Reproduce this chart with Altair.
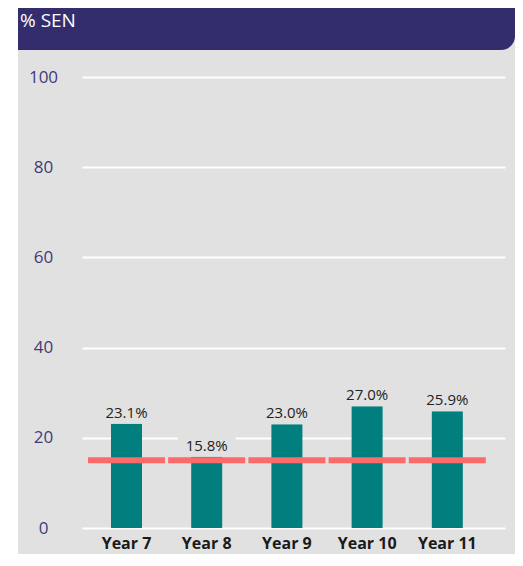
import altair as alt
import pandas as pd

years = ["Year 7", "Year 8", "Year 9", "Year 10", "Year 11"]
sen_pct = [23.1, 15.8, 23.0, 27.0, 25.9]
national = [15.0, 15.0, 15.0, 15.0, 15.0]
y_ticks = [0, 20, 40, 60, 80, 100]
header_text = "% SEN"

df = pd.DataFrame({"year": years, "sen": sen_pct, "nat": national})
df["label"] = [f"{v:.1f}%" for v in sen_pct]
df["top"] = df["sen"] + 4.6

GREY = "#e1e1e1"
PURPLE = "#332c6d"
TEAL = "#007f7e"
RED = "#fc6a69"

base = alt.Chart(df)

x_enc = alt.X(
    "year:N",
    sort=years,
    scale=alt.Scale(paddingInner=0, paddingOuter=0.137, align=0.2),
    axis=alt.Axis(
        title=None, labelAngle=0, labelFont="Open Sans", labelFontWeight="bold",
        labelFontSize=16, labelColor="#1a1a1a", ticks=False, domain=False,
        labelPadding=7, grid=False,
    ),
)
y_scale = alt.Scale(domain=[0, 100], nice=False)
y_enc = alt.Y(
    "sen:Q",
    scale=y_scale,
    axis=alt.Axis(
        values=y_ticks, title=None, grid=True, gridColor="white", gridWidth=2,
        ticks=False, domain=False, labelFont="Open Sans", labelFontSize=17,
        labelColor="#3f3b7a", labelAlign="center", labelPadding=39,
        labelBaseline="middle",
    ),
)

one = alt.Data(values=[{"a": 1}])

white_strip = alt.Chart(one).mark_rect(color="white").encode(
    x=alt.value(-80), x2=alt.value(-64), y=alt.value(-80), y2=alt.value(500)
)
header = alt.Chart(one).mark_rect(color=PURPLE, cornerRadiusBottomRight=14).encode(
    x=alt.value(-64), x2=alt.value(433), y=alt.value(-80), y2=alt.value(-27)
)
header_lbl = alt.Chart(one).mark_text(
    align="left", baseline="alphabetic", fontSize=19, color="white", font="Open Sans"
).encode(x=alt.value(-62), y=alt.value(-50), text=alt.value(header_text))

bars = base.mark_bar(size=31, color=TEAL).encode(x=x_enc, y=y_enc)
label_box = base.mark_bar(size=58, color=GREY).encode(
    x=alt.X("year:N", sort=years), y=alt.Y("sen:Q"), y2="top:Q"
)
ticks = base.mark_tick(size=77, thickness=6, color=RED, opacity=1).encode(
    x=alt.X("year:N", sort=years), y=alt.Y("nat:Q")
)
labels = base.mark_text(
    baseline="alphabetic", dy=-6, fontSize=15, color="#222222", font="Open Sans"
).encode(x=alt.X("year:N", sort=years), y=alt.Y("sen:Q"), text="label:N")

chart = alt.layer(
    white_strip, header, header_lbl, bars, label_box, ticks, labels
).properties(
    width=423, height=451,
    autosize=alt.AutoSizeParams(type="none"),
    padding={"left": 74, "top": 69, "right": 10, "bottom": 26},
    background=GREY,
).configure_view(stroke=None)

chart.save("out.html", embed_options={"renderer": "svg", "actions": False})
